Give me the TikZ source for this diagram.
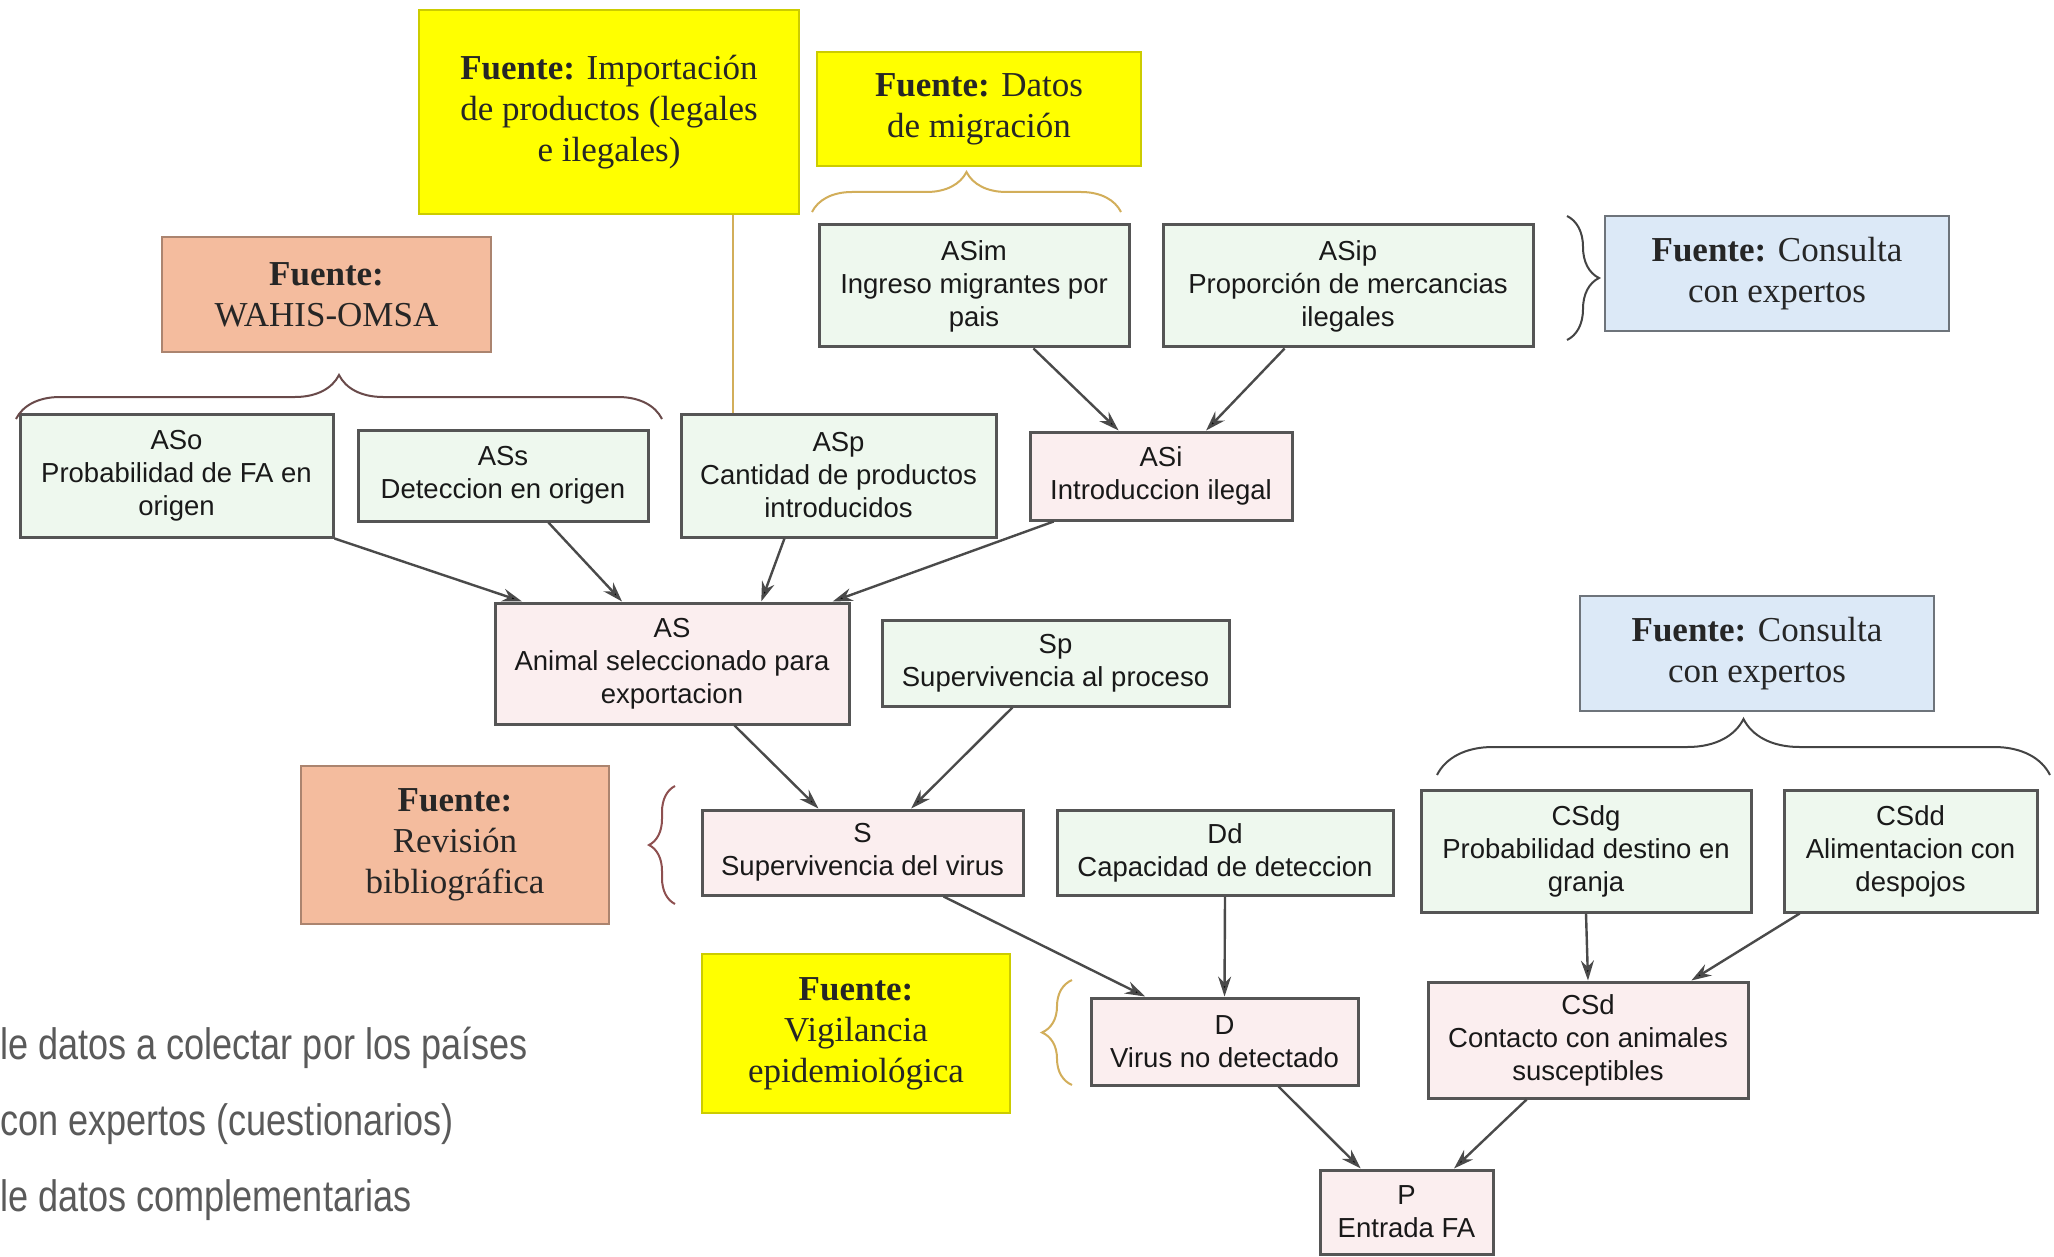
\documentclass[tikz,border=0pt]{standalone}
\usepackage{fontspec}
\setmainfont{Liberation Serif}
\setsansfont{Liberation Sans}
\newfontfamily\bulletfont[FakeStretch=0.82]{Liberation Sans}
\usetikzlibrary{arrows.meta,decorations.pathreplacing,calc}
\definecolor{grfill}{HTML}{EEF8EE}
\definecolor{pkfill}{HTML}{FBEEEF}
\definecolor{boxline}{HTML}{555555}
\definecolor{srcyellow}{HTML}{FFFF00}
\definecolor{srcsalmon}{HTML}{F4BC9E}
\definecolor{srcblue}{HTML}{DCE9F7}
\definecolor{bracemaroon}{HTML}{8E5050}
\definecolor{bracegold}{HTML}{D2AE5A}
\definecolor{bracegray}{HTML}{444444}
\definecolor{arrowgray}{HTML}{4A4A4A}
\definecolor{bullgray}{HTML}{5A5A5A}
\tikzset{
  varbox/.style={draw=boxline, line width=3pt, inner sep=2pt, align=center,
    font=\sffamily\fontsize{27.5}{33}\selectfont, text=black!90},
  gbox/.style={varbox, fill=grfill},
  pbox/.style={varbox, fill=pkfill},
  srcbox/.style={draw=boxline!70, line width=1.2pt, inner sep=2pt, align=center,
    font=\rmfamily\fontsize{35}{41}\selectfont, text=black!85},
  ybox/.style={srcbox, fill=srcyellow, draw=srcyellow!80!black},
  sbox/.style={srcbox, fill=srcsalmon, draw=srcsalmon!70!black},
  bbox/.style={srcbox, fill=srcblue, draw=srcblue!50!black},
  conn/.style={draw=arrowgray, line width=2.4pt, -{Stealth[length=20pt,width=13pt,fill=black]}},
  bracket/.style={decorate, line width=2pt},
  bulltext/.style={anchor=west, inner sep=0pt, text=bullgray, font=\bulletfont\fontsize{44}{50}\selectfont}
}
\newcommand{\F}{\textbf{Fuente:}}
\begin{document}
\begin{tikzpicture}[x=1pt,y=-1pt]
\useasboundingbox (0,0) rectangle (2054,1257);
\fill[white] (0,0) rectangle (2054,1257);

% source boxes
\node[ybox, minimum width=380pt, minimum height=204pt] (imp) at (609,112) {\F{} Importación\\de productos (legales\\e ilegales)};
\node[ybox, minimum width=324pt, minimum height=114pt] (mig) at (979,109) {\F{} Datos\\de migración};
\node[sbox, minimum width=329pt, minimum height=115pt] (wahis) at (326.5,294.5) {\F\\WAHIS-OMSA};
\node[bbox, minimum width=344pt, minimum height=115pt] (cons1) at (1777,273.5) {\F{} Consulta\\con expertos};
\node[sbox, minimum width=308pt, minimum height=158pt] (rev) at (455,845) {\F\\Revisión\\bibliográfica};
\node[bbox, minimum width=354pt, minimum height=115pt] (cons2) at (1757,653.5) {\F{} Consulta\\con expertos};
\node[ybox, minimum width=308pt, minimum height=159pt] (vig) at (856,1033.5) {\F\\Vigilancia\\epidemiológica};

% variable boxes
\node[gbox, minimum width=310pt, minimum height=122pt] (ASim) at (974,286) {ASim\\Ingreso migrantes por\\pais};
\node[gbox, minimum width=370pt, minimum height=122pt] (ASip) at (1348,286) {ASip\\Proporción de mercancias\\ilegales};
\node[gbox, minimum width=313pt, minimum height=123pt] (ASo) at (176.5,475.5) {ASo\\Probabilidad de FA en\\origen};
\node[gbox, minimum width=290pt, minimum height=91pt] (ASs) at (503,475.5) {ASs\\Deteccion en origen};
\node[gbox, minimum width=315pt, minimum height=123pt] (ASp) at (838.5,475.5) {ASp\\Cantidad de productos\\introducidos};
\node[pbox, minimum width=262pt, minimum height=88pt] (ASi) at (1161,476) {ASi\\Introduccion ilegal};
\node[pbox, minimum width=354pt, minimum height=121pt] (AS) at (672,663.5) {AS\\Animal seleccionado para\\exportacion};
\node[gbox, minimum width=347pt, minimum height=86pt] (Sp) at (1055.5,663) {Sp\\Supervivencia al proceso};
\node[pbox, minimum width=321pt, minimum height=85pt] (S) at (862.5,852.5) {S\\Supervivencia del virus};
\node[gbox, minimum width=336pt, minimum height=85pt] (Dd) at (1225,852.5) {Dd\\Capacidad de deteccion};
\node[gbox, minimum width=330pt, minimum height=122pt] (CSdg) at (1586,851) {CSdg\\Probabilidad destino en\\granja};
\node[gbox, minimum width=253pt, minimum height=122pt] (CSdd) at (1910.5,851) {CSdd\\Alimentacion con\\despojos};
\node[pbox, minimum width=267pt, minimum height=87pt] (D) at (1224.5,1041.5) {D\\Virus no detectado};
\node[pbox, minimum width=320pt, minimum height=116pt] (CSd) at (1588,1040) {CSd\\Contacto con animales\\susceptibles};
\node[pbox, minimum width=173pt, minimum height=84pt] (P) at (1406.5,1212) {P\\Entrada FA};

% braces
\coordinate (bw1) at (16,419); \coordinate (bw2) at (662,419);
\draw[bracket, bracegray!50!bracemaroon, decoration={brace, amplitude=44pt}] (bw1) -- (bw2);
\coordinate (bm1) at (812,212); \coordinate (bm2) at (1121,212);
\draw[bracket, bracegold, decoration={brace, amplitude=40pt}] (bm1) -- (bm2);
\coordinate (bc1) at (1567,216); \coordinate (bc2) at (1567,340);
\draw[bracket, bracegray, decoration={brace, amplitude=32pt}] (bc1) -- (bc2);
\coordinate (bd1) at (1437,775); \coordinate (bd2) at (2050,775);
\draw[bracket, bracegray, decoration={brace, amplitude=56pt}] (bd1) -- (bd2);
\coordinate (br1) at (675,904); \coordinate (br2) at (675,786);
\draw[bracket, bracemaroon, decoration={brace, amplitude=26pt}] (br1) -- (br2);
\coordinate (bv1) at (1072,1085); \coordinate (bv2) at (1072,980);
\draw[bracket, bracegold, decoration={brace, amplitude=30pt}] (bv1) -- (bv2);

% yellow link
\draw[bracegold, line width=2.2pt] (imp.south -| 733,0) -- (ASp.north -| 733,0);

% connectors
\draw[conn] (ASo.south east) -- ($(AS.north west)!0.08!(AS.north east)$);
\draw[conn] ($(ASs.south west)!0.655!(ASs.south east)$) -- ($(AS.north west)!0.36!(AS.north east)$);
\draw[conn] ($(ASp.south west)!0.33!(ASp.south east)$) -- ($(AS.north west)!0.75!(AS.north east)$);
\draw[conn] ($(ASi.south west)!0.095!(ASi.south east)$) -- ($(AS.north west)!0.95!(AS.north east)$);
\draw[conn] ($(ASim.south west)!0.69!(ASim.south east)$) -- ($(ASi.north west)!0.34!(ASi.north east)$);
\draw[conn] ($(ASip.south west)!0.33!(ASip.south east)$) -- ($(ASi.north west)!0.67!(ASi.north east)$);
\draw[conn] ($(AS.south west)!0.675!(AS.south east)$) -- ($(S.north west)!0.364!(S.north east)$);
\draw[conn] ($(Sp.south west)!0.377!(Sp.south east)$) -- ($(S.north west)!0.65!(S.north east)$);
\draw[conn] ($(S.south west)!0.75!(S.south east)$) -- ($(D.north west)!0.206!(D.north east)$);
\draw[conn] (Dd.south) -- (D.north);
\draw[conn] (CSdg.south) -- (CSd.north);
\draw[conn] ($(CSdd.south west)!0.067!(CSdd.south east)$) -- ($(CSd.north west)!0.82!(CSd.north east)$);
\draw[conn] ($(D.south west)!0.70!(D.south east)$) -- ($(P.north west)!0.24!(P.north east)$);
\draw[conn] ($(CSd.south west)!0.31!(CSd.south east)$) -- ($(P.north west)!0.77!(P.north east)$);

% left bullet text (cut off in the picture)
\node[bulltext] (t1) at (0,1048) {le datos a colectar por los países};
\node[bulltext] (t2) at (0,1124) {con expertos (cuestionarios)};
\node[bulltext] (t3) at (0,1200) {le datos complementarias};
\end{tikzpicture}
\end{document}
